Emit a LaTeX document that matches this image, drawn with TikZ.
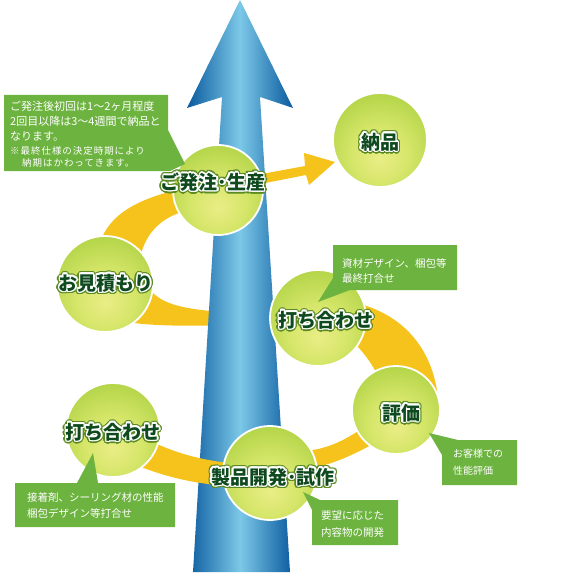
\documentclass[tikz,border=0pt]{standalone}
\usepackage{fontspec}
\setmainfont{Noto Sans CJK JP}
\definecolor{yel}{HTML}{F6C31C}
\definecolor{blD}{HTML}{0A5A9E}
\definecolor{blL}{HTML}{7CC8E8}
\definecolor{callg}{HTML}{6DB33F}
\definecolor{lbltext}{HTML}{0E4A1E}
\definecolor{lblglow}{HTML}{5B8A22}
\definecolor{bin}{HTML}{EAED86}
\definecolor{bmid}{HTML}{D6E66A}
\definecolor{bmid2}{HTML}{B2D447}
\definecolor{bout}{HTML}{8BC11F}
\pgfdeclareradialshading{greenball}{\pgfpoint{0bp}{-10bp}}{color(0bp)=(bin); color(15bp)=(bmid); color(32bp)=(bmid2); color(46bp)=(bout); color(80bp)=(bout)}
\newcommand\glowtxt[1]{%
  \foreach \a in {0,15,...,345}{%
    \pgfmathsetmacro\dx{2.8*cos(\a)}%
    \pgfmathsetmacro\dy{2.8*sin(\a)}%
    \makebox[0pt][l]{\hspace*{\dx pt}\raisebox{\dy pt}{\textcolor{lblglow}{#1}}}%
  }%
  \foreach \a in {0,30,...,330}{%
    \pgfmathsetmacro\dx{1.5*cos(\a)}%
    \pgfmathsetmacro\dy{1.5*sin(\a)}%
    \makebox[0pt][l]{\hspace*{\dx pt}\raisebox{\dy pt}{\textcolor{white}{#1}}}%
  }%
  \textcolor{lbltext}{#1}}
\tikzset{
  bandfill/.style={fill=yel},
  ball/.style={circle, draw=white, line width=1.8pt, shading=greenball, inner sep=0pt},
  lbl/.style={inner sep=0pt, font=\bfseries\fontsize{19}{22}\selectfont},
  callout/.style={fill=callg},
  ctext/.style={text=white, inner sep=0pt, anchor=base west, font=\fontsize{10.5}{12}\selectfont},
}
\begin{document}
\begin{tikzpicture}[x=1pt,y=-1pt]
\useasboundingbox (0,0) rectangle (580,572);
% back part of spiral (behind arrow)
\fill[bandfill] (140,282) -- (152,292) .. controls (165,305) and (185,312) .. (268,314) -- (268,324) .. controls (180,327) and (150,326) .. (120,321) -- cycle;
% big arrow
\shade[left color=blD, right color=blD, middle color=blL]
  (240,0) -- (293,108) -- (260,97) -- (290,572) -- (193,572) -- (222,97) -- (187,108) -- cycle;
% front parts of spiral
\fill[bandfill] (125,430) -- (150,441) .. controls (175,452) and (195,460) .. (245,465) -- (245,487) .. controls (195,485) and (165,477) .. (128,462) -- cycle;
\fill[bandfill] (295,452) .. controls (330,450) and (345,440) .. (372,422) -- (380,440) .. controls (352,456) and (330,466) .. (295,472) -- cycle;
\fill[bandfill] (330,299) .. controls (392,303) and (432,340) .. (438,398) -- (400,398) -- (376,372) .. controls (366,354) and (350,334) .. (330,330) -- cycle;
\fill[bandfill] (100,242) .. controls (110,215) and (135,199) .. (185,188) -- (190,210) .. controls (165,215) and (146,230) .. (140,258) -- cycle;
\fill[bandfill] (240,178) -- (305,166) -- (304,153) -- (335,162) -- (309,185) -- (306,175) -- (240,188) -- cycle;
% balls
\node[ball, minimum size=90pt] (b1) at (218,190) {};
\node[ball, minimum size=94pt] (b2) at (380,140) {};
\node[ball, minimum size=96pt] (b3) at (105,284) {};
\node[ball, minimum size=96pt] (b4) at (318,318) {};
\node[ball, minimum size=88pt] (b5) at (396,410) {};
\node[ball, minimum size=94pt] (b6) at (270,473) {};
\node[ball, minimum size=94pt] (b7) at (113,430) {};
% labels
\node[lbl] (t1) at (213,182) {\glowtxt{ご発注･生産}};
\node[lbl] (t2) at (380,142) {\glowtxt{納品}};
\node[lbl] (t3) at (106,283) {\glowtxt{お見積もり}};
\node[lbl] (t4) at (326,320) {\glowtxt{打ち合わせ}};
\node[lbl] (t5) at (401,413) {\glowtxt{評価}};
\node[lbl] (t6) at (273,477) {\glowtxt{製品開発･試作}};
\node[lbl] (t7) at (113,432) {\glowtxt{打ち合わせ}};
% callout 1
\fill[callout] (4,95) -- (168,95) -- (168,130) -- (185,164) -- (170,171) -- (4,171) -- cycle;
\node[ctext, font=\fontsize{11}{12}\selectfont] (c1a) at (10,111) {ご発注後初回は1～2ヶ月程度};
\node[ctext, font=\fontsize{11}{12}\selectfont] (c1b) at (10,126) {2回目以降は3～4週間で納品と};
\node[ctext, font=\fontsize{11}{12}\selectfont] (c1c) at (10,141) {なります。};
\node[ctext, font=\fontsize{9.5}{11}\selectfont\addfontfeature{LetterSpace=10}] (c1d) at (10,155) {※最終仕様の決定時期により};
\node[ctext, font=\fontsize{9.5}{11}\selectfont\addfontfeature{LetterSpace=10}] (c1e) at (22,166) {納期はかわってきます。};
% callout 2
\fill[callout] (333,245) -- (457,245) -- (457,290) -- (350,290) -- (318,302) -- (333,278) -- cycle;
\node[ctext] (c2a) at (342,267) {資材デザイン、梱包等};
\node[ctext] (c2b) at (342,282) {最終打合せ};
% callout 3
\fill[callout] (458,440) -- (517,440) -- (517,485) -- (442,485) -- (442,455) -- (429,433) -- cycle;
\node[ctext, font=\fontsize{10}{12}\selectfont] (c3a) at (453,457) {お客様での};
\node[ctext, font=\fontsize{10}{12}\selectfont] (c3b) at (453,474) {性能評価};
% callout 4
\fill[callout] (15,483) -- (77,483) -- (93,453) -- (98,483) -- (175,483) -- (175,527) -- (15,527) -- cycle;
\node[ctext] (c4a) at (27,501) {接着剤、シーリング材の性能};
\node[ctext] (c4b) at (27,517) {梱包デザイン等打合せ};
% callout 5
\fill[callout] (320,500) -- (398,500) -- (398,545) -- (312,545) -- (312,510) -- (303,492) -- cycle;
\node[ctext] (c5a) at (321,519) {要望に応じた};
\node[ctext] (c5b) at (321,536) {内容物の開発};
\end{tikzpicture}
\end{document}
